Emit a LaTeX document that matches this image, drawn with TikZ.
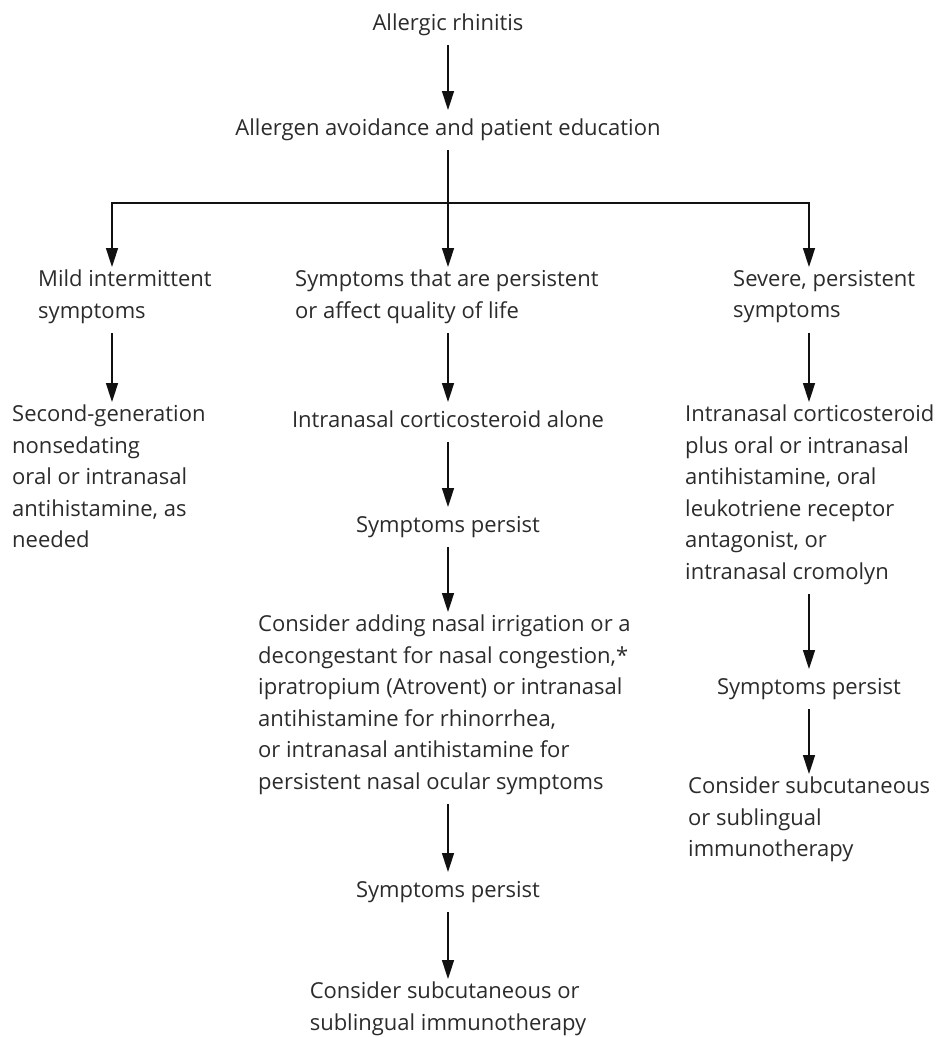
\documentclass[tikz,border=0pt]{standalone}
\usepackage{fontspec}
\setmainfont{Open Sans}
\usetikzlibrary{arrows.meta}
\definecolor{txt}{HTML}{2B2B2B}
\definecolor{ln}{HTML}{111111}
\newcommand{\fs}{\fontsize{22}{31.5}\selectfont}
\tikzset{
  blk/.style={anchor=north west, inner sep=0pt, align=left, text=txt, font=\fs, execute at begin node=\strut},
  cblk/.style={anchor=north, inner sep=0pt, align=center, text=txt, font=\fs, execute at begin node=\strut},
  lblk/.style={anchor=north, inner sep=0pt, align=left, text=txt, font=\fs, execute at begin node=\strut},
  arr/.style={draw=ln, line width=1.5pt, -{Triangle[length=19pt,width=12pt]}, shorten <=5pt, shorten >=3pt},
  plain/.style={draw=ln, line width=1.5pt}
}
\begin{document}
\begin{tikzpicture}[x=1pt,y=-1pt]
\useasboundingbox (0,0) rectangle (937,1037);
\coordinate (L) at (112,0);
\coordinate (M) at (448,0);
\coordinate (R) at (809,0);
\coordinate (J) at (448,203);
% top
\node[cblk] (top) at (448,8) {Allergic rhinitis};
\node[cblk] (edu) at (448,113) {Allergen avoidance and patient education};
% row 2
\node[blk] (mild) at (38,270) {Mild intermittent\\symptoms};
\node[blk] (pers) at (295,270) {Symptoms that are persistent\\or affect quality of life};
\node[blk] (sev) at (733,270) {Severe, persistent\\symptoms};
% row 3
\node[blk] (second) at (12,405) {Second-generation\\nonsedating\\oral or intranasal\\antihistamine, as\\needed};
\node[cblk] (ics) at (448,405) {Intranasal corticosteroid alone};
\node[blk] (combo) at (685,405) {Intranasal corticosteroid\\plus oral or intranasal\\antihistamine, oral\\leukotriene receptor\\antagonist, or\\intranasal cromolyn};
% middle column
\node[cblk] (sp1) at (448,510) {Symptoms persist};
\node[blk] (add) at (258,615) {Consider adding nasal irrigation or a\\decongestant for nasal congestion,*\\ipratropium (Atrovent) or intranasal\\antihistamine for rhinorrhea,\\or intranasal antihistamine for\\persistent nasal ocular symptoms};
\node[cblk] (sp2) at (448,875) {Symptoms persist};
\node[lblk] (imm1) at (448,982) {Consider subcutaneous or\\sublingual immunotherapy};
% right column
\node[cblk] (sp3) at (809,672) {Symptoms persist};
\node[blk] (imm2) at (688,777) {Consider subcutaneous\\or sublingual\\immunotherapy};
% connectors
\draw[arr] (top.south) -- (edu.north);
\draw[arr] (edu.south) -- (pers.north -| M);
\draw[plain] (L |- J) -- (R |- J);
\draw[arr, shorten <=0pt] (J) -| (mild.north -| L);
\draw[arr, shorten <=0pt] (J) -| (sev.north -| R);
\draw[arr] (mild.south -| L) -- (second.north -| L);
\draw[arr] (pers.south -| M) -- (ics.north);
\draw[arr] (sev.south -| R) -- (combo.north -| R);
\draw[arr] (ics.south) -- (sp1.north);
\draw[arr] (sp1.south) -- (add.north -| M);
\draw[arr] (add.south -| M) -- (sp2.north);
\draw[arr] (sp2.south) -- (imm1.north);
\draw[arr] (combo.south -| R) -- (sp3.north);
\draw[arr] (sp3.south) -- (imm2.north -| R);
\end{tikzpicture}
\end{document}
